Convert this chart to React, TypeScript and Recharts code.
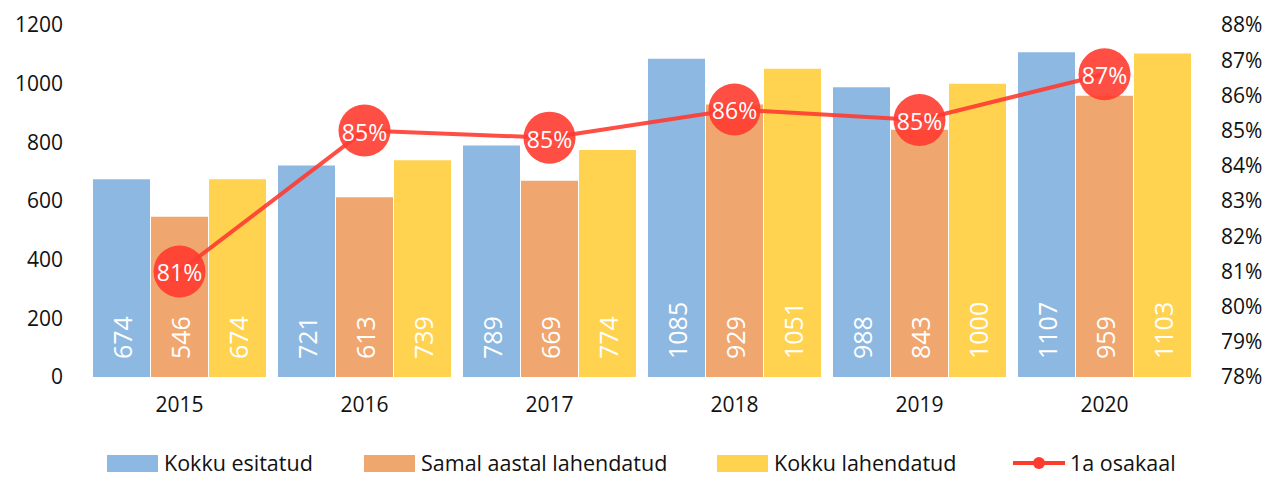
import React from "react";
import { ComposedChart, Bar, Line, XAxis, YAxis, LabelList } from "recharts";

const BLUE = "#8DB8E1";
const ORANGE = "#F0A66F";
const YELLOW = "#FFD24F";
const RED = "#FF3B30";
const FONT = "'Open Sans', 'Noto Sans', sans-serif";

const years = ["2015", "2016", "2017", "2018", "2019", "2020"];
const esitatud = [674, 721, 789, 1085, 988, 1107];
const samalAastal = [546, 613, 669, 929, 843, 959];
const lahendatud = [674, 739, 774, 1051, 1000, 1103];
const osakaal = [81.0, 85.0, 84.8, 85.6, 85.3, 86.6];

const leftTicks = [0, 200, 400, 600, 800, 1000, 1200];
const rightTicks = [78, 79, 80, 81, 82, 83, 84, 85, 86, 87, 88];

const data = years.map((y, i) => ({
  year: y,
  a: esitatud[i],
  b: samalAastal[i],
  c: lahendatud[i],
  p: osakaal[i],
}));

// rotated value label at the bottom of each bar
const BarValue = (props: any) => {
  const { x, y, width, height, value } = props;
  const cx = x + width / 2;
  const cy = y + height - 18;
  return (
    <text
      x={cx}
      y={cy}
      transform={`rotate(-90, ${cx}, ${cy})`}
      textAnchor="start"
      dominantBaseline="central"
      fill="#fff"
      fontSize={25}
      fontFamily={FONT}
    >
      {value}
    </text>
  );
};

const BigDot = (props: any) => {
  const { cx, cy, payload } = props;
  return (
    <g>
      <circle cx={cx} cy={cy} r={26} fill={RED} fillOpacity={0.9} />
      <text
        x={cx}
        y={cy + 1}
        textAnchor="middle"
        dominantBaseline="central"
        fill="#fff"
        fontSize={23}
        fontFamily={FONT}
      >
        {Math.round(payload.p)}%
      </text>
    </g>
  );
};

const legendItems = [
  { label: "Kokku esitatud", color: BLUE, line: false, x: 107 },
  { label: "Samal aastal lahendatud", color: ORANGE, line: false, x: 364 },
  { label: "Kokku lahendatud", color: YELLOW, line: false, x: 717 },
  { label: "1a osakaal", color: RED, line: true, x: 1013 },
];

export default function App() {
  const tick = { fill: "#111", fontSize: 21, fontFamily: FONT };
  return (
    <div style={{ position: "absolute", left: 0, top: 0, width: 1269, height: 477, background: "#fff" }}>
      <ComposedChart
        width={1269}
        height={432}
        data={data}
        margin={{ top: 25, right: 0, bottom: 0, left: 0 }}
        barCategoryGap={6}
        barGap={1}
      >
        <XAxis
          dataKey="year"
          axisLine={false}
          tickLine={false}
          tick={tick}
          tickMargin={14}
          height={55}
        />
        <YAxis
          yAxisId="left"
          domain={[0, 1200]}
          ticks={leftTicks}
          axisLine={false}
          tickLine={false}
          tick={tick}
          width={87}
          tickMargin={18}
        />
        <YAxis
          yAxisId="right"
          orientation="right"
          domain={[78, 88]}
          ticks={rightTicks}
          tickFormatter={(v: number) => `${v}%`}
          axisLine={false}
          tickLine={false}
          tick={{ ...tick, textAnchor: "start" }}
          width={72}
          tickMargin={18}
        />
        <Bar yAxisId="left" dataKey="a" fill={BLUE} isAnimationActive={false}>
          <LabelList dataKey="a" content={BarValue} />
        </Bar>
        <Bar yAxisId="left" dataKey="b" fill={ORANGE} isAnimationActive={false}>
          <LabelList dataKey="b" content={BarValue} />
        </Bar>
        <Bar yAxisId="left" dataKey="c" fill={YELLOW} isAnimationActive={false}>
          <LabelList dataKey="c" content={BarValue} />
        </Bar>
        <Line
          yAxisId="right"
          dataKey="p"
          stroke={RED}
          strokeOpacity={0.9}
          strokeWidth={4}
          dot={<BigDot />}
          activeDot={false}
          isAnimationActive={false}
        />
      </ComposedChart>
      <svg width={1269} height={45} style={{ display: "block" }}>
        {legendItems.map((it) => (
          <g key={it.label}>
            {it.line ? (
              <g>
                <line x1={it.x} y1={31} x2={it.x + 52} y2={31} stroke={it.color} strokeWidth={4} />
                <circle cx={it.x + 26} cy={31} r={6} fill={it.color} />
              </g>
            ) : (
              <rect x={it.x} y={23} width={51} height={17} fill={it.color} />
            )}
            <text
              x={it.x + 57}
              y={30}
              dominantBaseline="central"
              fontSize={21.5}
              fontFamily={FONT}
              fill="#111"
            >
              {it.label}
            </text>
          </g>
        ))}
      </svg>
    </div>
  );
}
